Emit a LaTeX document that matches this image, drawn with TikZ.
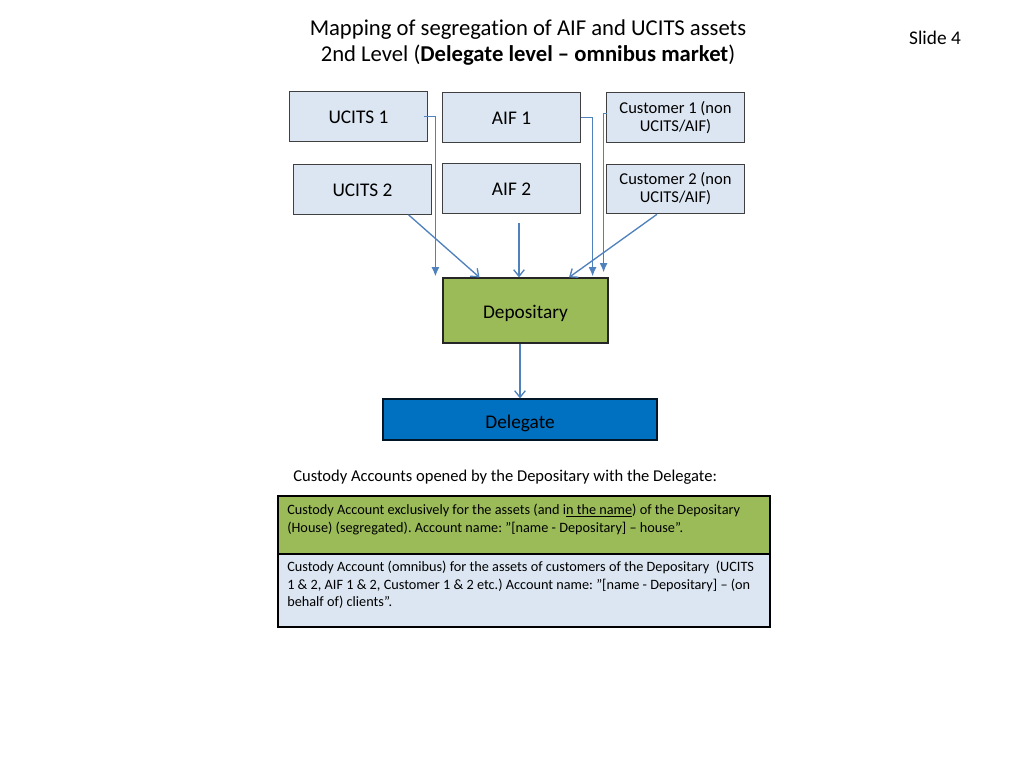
\documentclass[tikz,border=0pt]{standalone}
\usepackage{fontspec}
\setmainfont{Carlito}[Ligatures=NoCommon]
\usetikzlibrary{arrows.meta, calc, positioning}
\definecolor{boxblue}{HTML}{DCE6F2}
\definecolor{depgreen}{HTML}{9BBB59}
\definecolor{delblue}{HTML}{0070C0}
\definecolor{linkblue}{HTML}{4F81BD}
\definecolor{boxedge}{HTML}{404040}
\frenchspacing

\begin{document}
\begin{tikzpicture}[x=0.75pt, y=-0.75pt,
        fundbox/.style={draw=boxedge, line width=0.9pt, fill=boxblue, minimum width=103pt, minimum height=37pt, inner sep=1pt, text height=10.2pt, text depth=0pt, font=\fontsize{14.5}{17}\selectfont},
        custbox/.style={draw=boxedge, line width=0.9pt, fill=boxblue, minimum width=103pt, minimum height=37pt, inner sep=1pt, align=center, font=\fontsize{12.4}{13.5}\selectfont},
        depobox/.style={draw=black!85, line width=0.9pt, fill=depgreen, minimum width=123.75pt, minimum height=48.75pt, text height=11.7pt, text depth=0pt, font=\fontsize{14.5}{17}\selectfont},
        delbox/.style={draw=black!80!delblue, line width=0.9pt, fill=delblue, minimum width=205.5pt, minimum height=30.75pt, text height=14pt, text depth=0pt, font=\fontsize{14.5}{17}\selectfont},
        acct/.style={draw=black, line width=1.8pt, minimum width=369pt, anchor=north west},
        accttext/.style={inner sep=0pt, anchor=north west, align=left, font=\fontsize{10.7}{13}\selectfont},
        elbow/.style={draw=linkblue, line width=1pt, -{Latex[length=7pt,width=6pt]}},
        link/.style={draw=linkblue, line width=1pt, -{Straight Barb[length=5pt,width=8pt]}}]
        \useasboundingbox (0,0) rectangle (1024,768);

        \node[align=center, font=\fontsize{17}{20}\selectfont] (title) at (528,42.5) {Mapping of segregation of AIF and UCITS assets\\2nd Level (\textbf{Delegate level – omnibus market})};
        \node[font=\fontsize{14.5}{17}\selectfont] (slide) at (935,38) {Slide 4};

        \node[fundbox] (ucits1) at (358.5,116.5) {UCITS 1};
        \node[fundbox] (aif1) at (511.5,117.5) {AIF 1};
        \node[custbox] (cust1) at (675.5,117.5) {Customer 1 (non\\UCITS/AIF)};
        \node[fundbox] (ucits2) at (362.5,189.5) {UCITS 2};
        \node[fundbox] (aif2) at (511.5,188.5) {AIF 2};
        \node[custbox] (cust2) at (675.5,189) {Customer 2 (non\\UCITS/AIF)};

        \node[depobox] (depo) at (525.5,310.5) {Depositary};
        \node[delbox] (deleg) at (520,419.5) {Delegate};

        \draw[elbow] ($(ucits1.east)+(-4,0)$) -| ($(depo.north west)+(-7,-1)$);
        \draw[elbow] (aif1.east) -| ($(depo.north east)+(-16,-1)$);
        \draw[elbow] ($(cust1.west)+(1,-4)$) -| ($(depo.north east)+(-5,-5)$);

        \draw[link] ($(ucits2.south)+(46,0)$) -- ($(depo.north)+(-46,0)$);
        \draw[link] ($(aif2.south)+(7.5,9)$) -- ($(depo.north)+(-6.5,0)$);
        \draw[link] ($(cust2.south)+(-18.5,0)$) -- ($(depo.north)+(43.5,0)$);
        \draw[link] (deleg.north |- depo.south) -- (deleg.north);

        \node[anchor=west, inner sep=0pt, font=\fontsize{12.4}{14}\selectfont] (caption) at (293,477) {Custody Accounts opened by the Depositary with the Delegate:};

        \node[acct, fill=depgreen, minimum height=43.5pt] (house) at (277,495) {};
        \node[acct, fill=boxblue, minimum height=54.75pt] (clients) at (277,553) {};
        \node[accttext] (housetext) at ($(house.north west)+(10,9)$) {Custody Account exclusively for the assets (and i\underline{n the name}) of the Depositary\\(House) (segregated). Account name: ”[name - Depositary] – house”.};
        \node[accttext] (clientstext) at ($(clients.north west)+(10,8)$) {Custody Account (omnibus) for the assets of customers of the Depositary\ \ (UCITS\\1 \& 2, AIF 1 \& 2, Customer 1 \& 2 etc.) Account name: ”[name - Depositary] – (on\\behalf of) clients”.};
    \end{tikzpicture}
\end{document}
